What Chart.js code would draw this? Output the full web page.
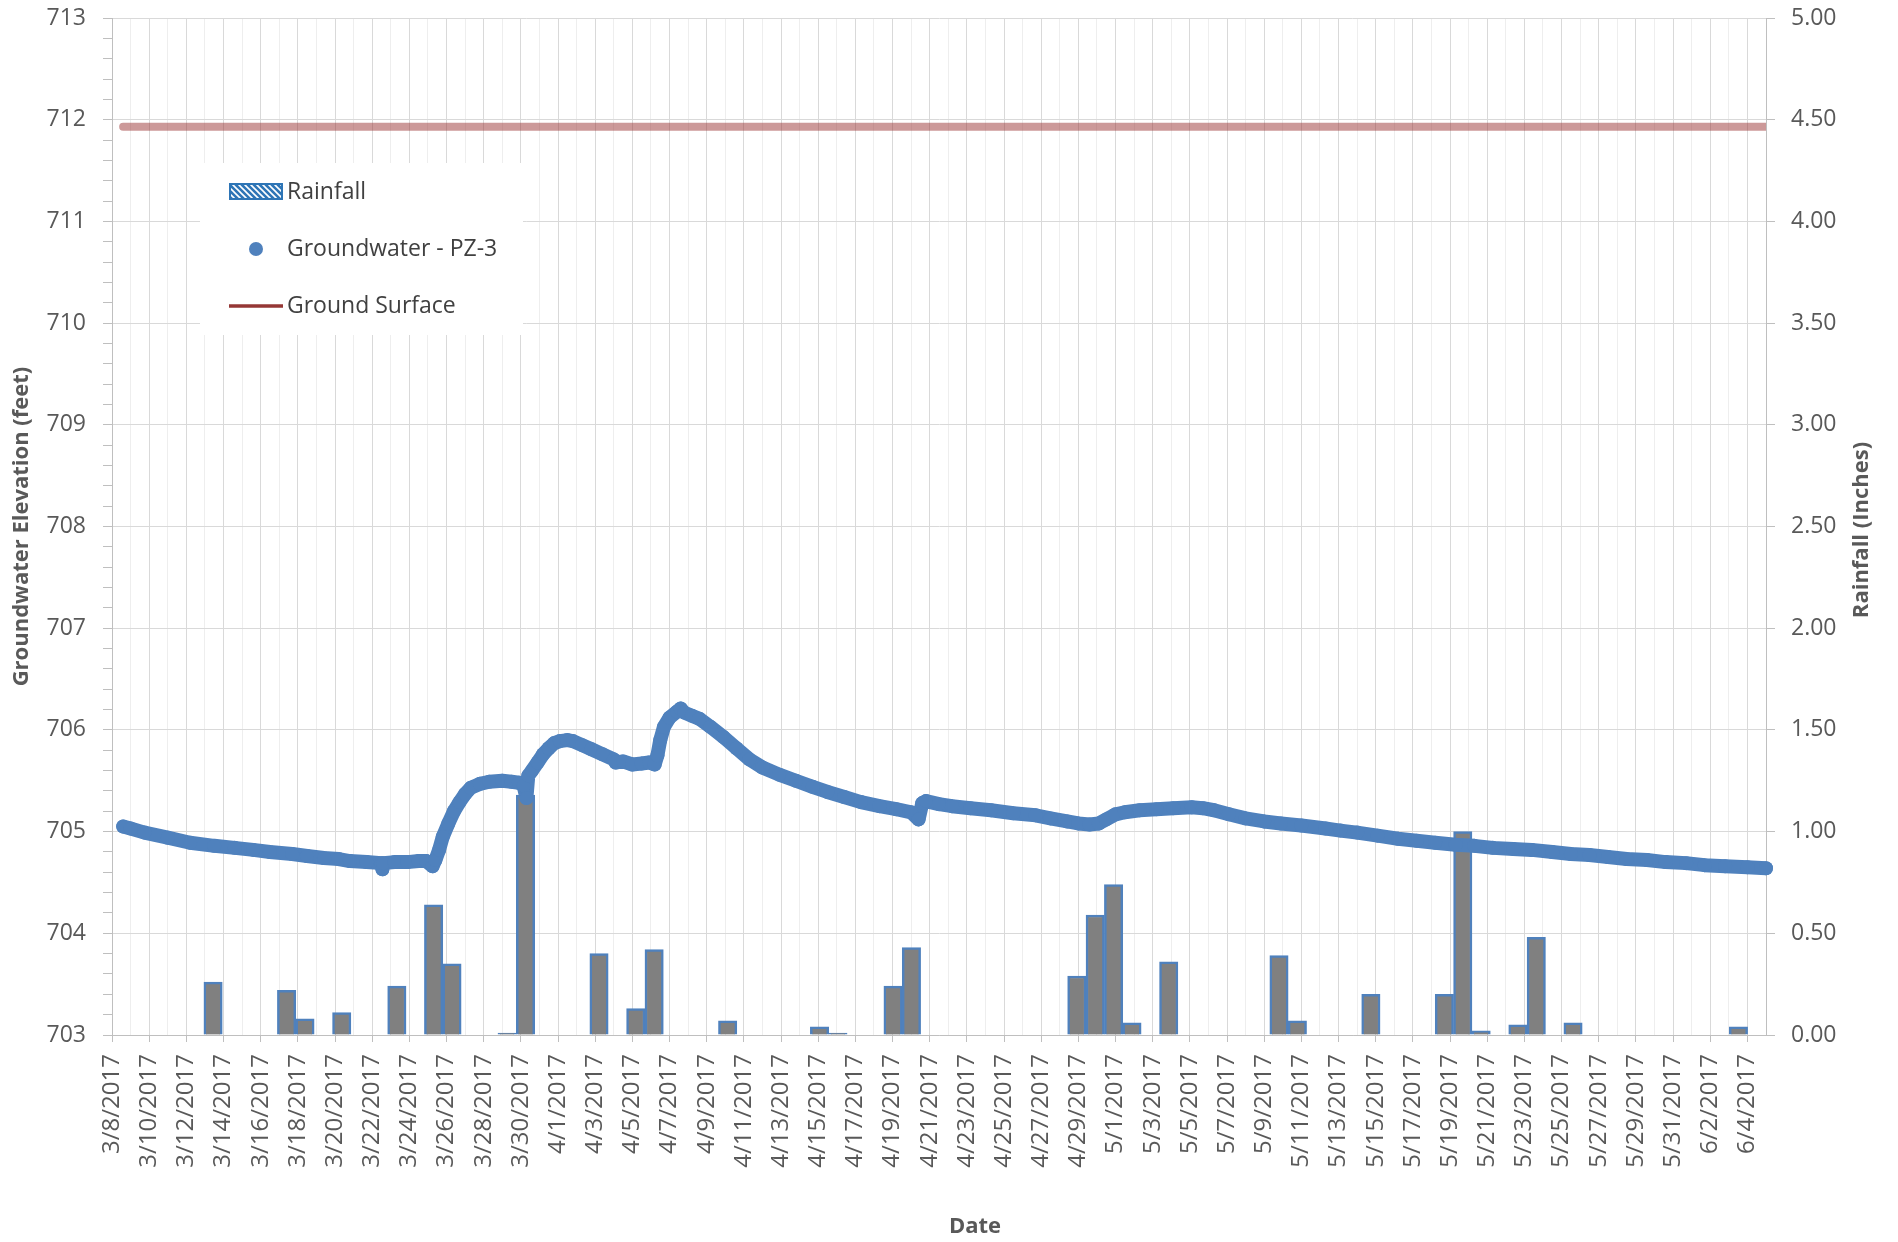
<!DOCTYPE html>
<html><head><meta charset="utf-8">
<script src="https://cdn.jsdelivr.net/npm/chart.js@4.4.1/dist/chart.umd.min.js"></script>
<style>html,body{margin:0;padding:0;background:#fff}#wrap{width:1898px;height:1242px;position:relative}</style>
</head><body><div id="wrap"><canvas id="c" width="1898" height="1242"></canvas></div>
<script>
// ---- data ----
// x axis: days since 3/8/2017 00:00 (axis runs 3/8/2017 .. 6/5/2017)
const AXIS_DAYS = 89;
// Groundwater - PZ-3 logger readings: time (days since 3/8/2017) and elevation (feet)
const gwDay = [0.6,1.0,1.75,3.0,4.2,5.5,6.6,7.6,8.5,9.7,
  10.5,11.4,12.2,12.8,13.7,14.5,14.55,14.6,15.2,15.9,
  16.5,16.9,17.25,17.4,17.6,17.8,18.1,18.4,18.7,19.0,
  19.3,19.8,20.3,21.0,21.5,21.9,22.15,22.3,22.4,22.6,
  22.9,23.2,23.5,23.8,24.1,24.5,24.8,25.3,25.8,26.4,
  27.0,27.1,27.5,28.0,28.5,28.9,29.2,29.35,29.5,29.7,
  30.0,30.4,30.6,30.8,31.2,31.6,32.2,32.9,33.6,34.3,
  35.0,35.9,36.8,37.7,38.5,39.4,40.3,41.3,42.2,43.0,
  43.4,43.6,43.8,44.5,45.2,46.2,47.3,48.5,49.7,50.5,
  51.4,52.0,52.6,53.1,53.5,54.0,54.5,55.3,56.2,57.1,
  58.1,58.7,59.3,60.1,61.0,62.0,62.9,64.0,65.3,66.1,
  67.0,68.1,69.2,70.2,71.2,72.3,73.3,74.3,75.4,76.4,
  77.5,78.5,79.5,80.5,81.5,82.6,83.6,84.7,85.7,86.8,
  88.0,89.0];
const gwElev = [705.05,705.03,704.99,704.94,704.89,704.86,704.84,704.82,704.80,704.78,
  704.76,704.74,704.73,704.71,704.70,704.69,704.63,704.69,704.70,704.70,
  704.71,704.71,704.66,704.72,704.82,704.95,705.08,705.20,705.29,705.37,
  705.43,705.47,705.49,705.50,705.49,705.48,705.45,705.33,705.55,705.60,
  705.68,705.76,705.82,705.87,705.89,705.90,705.89,705.85,705.81,705.76,
  705.71,705.68,705.69,705.66,705.67,705.68,705.66,705.75,705.90,706.03,
  706.12,706.18,706.21,706.17,706.14,706.11,706.03,705.93,705.82,705.71,
  705.63,705.56,705.50,705.44,705.39,705.34,705.29,705.25,705.22,705.19,
  705.12,705.28,705.30,705.27,705.25,705.23,705.21,705.18,705.16,705.13,
  705.10,705.08,705.07,705.08,705.12,705.17,705.19,705.21,705.22,705.23,
  705.24,705.23,705.21,705.17,705.13,705.10,705.08,705.06,705.03,705.01,
  704.99,704.96,704.93,704.91,704.89,704.87,704.86,704.84,704.83,704.82,
  704.80,704.78,704.77,704.75,704.73,704.72,704.70,704.69,704.67,704.66,
  704.65,704.64];
// Ground surface elevation (feet)
const gsDay = [0.6, 89.0];
const gsElev = [711.93, 711.93];
// Daily rainfall (inches); days not listed had no rain
const rainDates = ['3/13/2017','3/17/2017','3/18/2017','3/20/2017','3/23/2017','3/25/2017','3/26/2017','3/29/2017','3/30/2017',
  '4/3/2017','4/5/2017','4/6/2017','4/10/2017','4/15/2017','4/16/2017','4/19/2017','4/20/2017','4/29/2017','4/30/2017',
  '5/1/2017','5/2/2017','5/4/2017','5/10/2017','5/11/2017','5/15/2017','5/19/2017','5/20/2017','5/21/2017','5/23/2017',
  '5/24/2017','5/26/2017','6/4/2017'];
const rainInches = [0.26,0.22,0.08,0.11,0.24,0.64,0.35,0.01,1.18,
  0.40,0.13,0.42,0.07,0.04,0.01,0.24,0.43,0.29,0.59,
  0.74,0.06,0.36,0.39,0.07,0.20,0.20,1.00,0.02,0.05,
  0.48,0.06,0.04];
// labels / titles
const SERIES = ['Rainfall', 'Groundwater - PZ-3', 'Ground Surface'];
const TITLE_LEFT = 'Groundwater Elevation (feet)';
const TITLE_RIGHT = 'Rainfall (Inches)';
const TITLE_X = 'Date';

// ---- helpers ----
const fmtDay = d => { const t = new Date(2017, 2, 8 + d); return (t.getMonth()+1) + '/' + t.getDate() + '/' + t.getFullYear(); };
const barCategories = [];
for (let d = 0; d <= AXIS_DAYS; d++) barCategories.push(fmtDay(d));   // 3/8/2017 .. 6/5/2017
const tickLabels = [];
for (let d = 0; d < AXIS_DAYS; d += 2) tickLabels.push(fmtDay(d));     // every second day

const FONT = 'Open Sans';
const TXT = '#595959';
const BLUE = '#4F81BD';

function hatch() {
  const c = document.createElement('canvas'); c.width = 6; c.height = 6;
  const g = c.getContext('2d');
  g.fillStyle = '#2E75B6'; g.fillRect(0,0,6,6);
  g.strokeStyle = '#ffffff'; g.lineWidth = 1.6;
  g.beginPath(); g.moveTo(-1,-1); g.lineTo(7,7); g.moveTo(-4,2); g.lineTo(2,8); g.moveTo(2,-4); g.lineTo(8,2); g.stroke();
  return c;
}

const overlay = {
  id: 'overlay',
  afterDraw(chart) {
    const ctx = chart.ctx;
    const ds = chart.data.datasets;
    ctx.save();
    // legend box
    ctx.fillStyle = '#ffffff';
    ctx.fillRect(200, 163, 323, 172);
    ctx.font = '23px "' + FONT + '"';
    ctx.textBaseline = 'middle';
    ctx.textAlign = 'left';
    // Rainfall
    ctx.fillStyle = ctx.createPattern(hatch(), 'repeat');
    ctx.fillRect(230, 184, 52, 15);
    ctx.strokeStyle = '#2E75B6'; ctx.lineWidth = 2;
    ctx.strokeRect(230, 184, 52, 15);
    ctx.fillStyle = '#404040';
    ctx.fillText(ds[0].label, 287, 192);
    // Groundwater
    ctx.fillStyle = BLUE;
    ctx.beginPath(); ctx.arc(256, 249, 7, 0, Math.PI*2); ctx.fill();
    ctx.fillStyle = '#404040';
    ctx.fillText(ds[1].label, 287, 249);
    // Ground surface
    ctx.strokeStyle = '#953735'; ctx.lineWidth = 3.3;
    ctx.beginPath(); ctx.moveTo(229, 306); ctx.lineTo(283, 306); ctx.stroke();
    ctx.fillText(ds[2].label, 287, 306);
    // right axis title (reads bottom-to-top)
    ctx.fillStyle = TXT;
    ctx.font = 'bold 22px "' + FONT + '"';
    ctx.textAlign = 'center';
    ctx.save();
    ctx.translate(1862, 530);
    ctx.rotate(-Math.PI/2);
    ctx.fillText(TITLE_RIGHT, 0, 0);
    ctx.restore();
    // x axis title
    ctx.fillText(TITLE_X, 975, 1227);
    ctx.restore();
  }
};

const noPad = s => { s.paddingTop = 0; s.paddingBottom = 0; s.paddingLeft = 0; s.paddingRight = 0; };

function build() {
  new Chart(document.getElementById('c'), {
    data: {
      datasets: [
        { type: 'bar', label: SERIES[0],
          data: rainDates.map((d, i) => ({ x: d, y: rainInches[i] })),
          xAxisID: 'xBar', yAxisID: 'yRain', grouped: false,
          backgroundColor: '#808080', borderColor: BLUE, borderWidth: 2.5,
          barPercentage: 1, categoryPercentage: 1, order: 3 },
        { type: 'scatter', label: SERIES[1],
          data: gwDay.map((d, i) => ({ x: d, y: gwElev[i] })),
          xAxisID: 'x', yAxisID: 'y', showLine: true,
          borderColor: BLUE, backgroundColor: BLUE, borderWidth: 14,
          pointRadius: 7, pointHoverRadius: 7, pointBorderWidth: 0,
          borderCapStyle: 'round', borderJoinStyle: 'round', clip: false, order: 2 },
        { type: 'line', label: SERIES[2],
          data: gsDay.map((d, i) => ({ x: d, y: gsElev[i] })),
          xAxisID: 'x', yAxisID: 'y',
          borderColor: 'rgba(153,51,51,0.5)', borderWidth: 8, pointRadius: 0,
          borderCapStyle: 'round', clip: 0, order: 1 }
      ]
    },
    options: {
      responsive: false, animation: false, devicePixelRatio: 1,
      layout: { padding: { top: 18, left: 0, right: 0, bottom: 0 } },
      plugins: { legend: { display: false }, tooltip: { enabled: false } },
      scales: {
        x: { type: 'linear', position: 'bottom', min: 0, max: AXIS_DAYS,
          afterFit: s => { s.height = 207; noPad(s); },
          ticks: { stepSize: 1, autoSkip: false, maxTicksLimit: 1000, maxRotation: 90, minRotation: 90,
            padding: 12, color: TXT, font: { family: FONT, size: 24 },
            callback: v => (v % 2 === 0 ? tickLabels[v / 2] : '') },
          grid: { color: c => (c.tick && c.tick.value % 2 === 0) ? '#d9d9d9' : '#eeeeee',
            tickColor: c => (c.tick && c.tick.value % 2 === 0) ? '#bfbfbf' : 'rgba(0,0,0,0)',
            tickLength: 7, lineWidth: 1 },
          border: { color: '#bfbfbf', width: 1 } },
        xBar: { type: 'category', labels: barCategories, offset: true, display: false,
          afterFit: noPad },
        y: { type: 'linear', position: 'left', min: 703, max: 713,
          afterFit: s => { s.width = 112; noPad(s); },
          ticks: { stepSize: 0.2, autoSkip: false, maxTicksLimit: 1000, padding: 17, color: TXT, font: { family: FONT, size: 23 },
            callback: v => Math.abs(v - Math.round(v)) < 1e-6 ? String(Math.round(v)) : '' },
          grid: { color: c => (c.tick && Math.abs(c.tick.value - Math.round(c.tick.value)) < 1e-6) ? '#d9d9d9' : 'rgba(0,0,0,0)',
            tickColor: '#bfbfbf', tickLength: 9 },
          border: { color: '#bfbfbf', width: 1 },
          title: { display: true, text: TITLE_LEFT, color: TXT,
            font: { family: FONT, size: 22, weight: 'bold' }, padding: { top: 9, bottom: 0 } } },
        yRain: { type: 'linear', position: 'right', min: 0, max: 5,
          afterFit: s => { s.width = 132; noPad(s); },
          ticks: { stepSize: 0.5, autoSkip: false, maxTicksLimit: 1000, padding: 16, color: TXT, font: { family: FONT, size: 23 },
            callback: v => Number(v).toFixed(2) },
          grid: { drawOnChartArea: false, tickColor: '#bfbfbf', tickLength: 9 },
          border: { color: '#bfbfbf', width: 1 } }
      }
    },
    plugins: [overlay]
  });
}
if (document.fonts && document.fonts.load) {
  Promise.all([document.fonts.load('23px "Open Sans"'), document.fonts.load('bold 22px "Open Sans"')])
    .then(build, build);
} else build();
</script>
</body></html>
